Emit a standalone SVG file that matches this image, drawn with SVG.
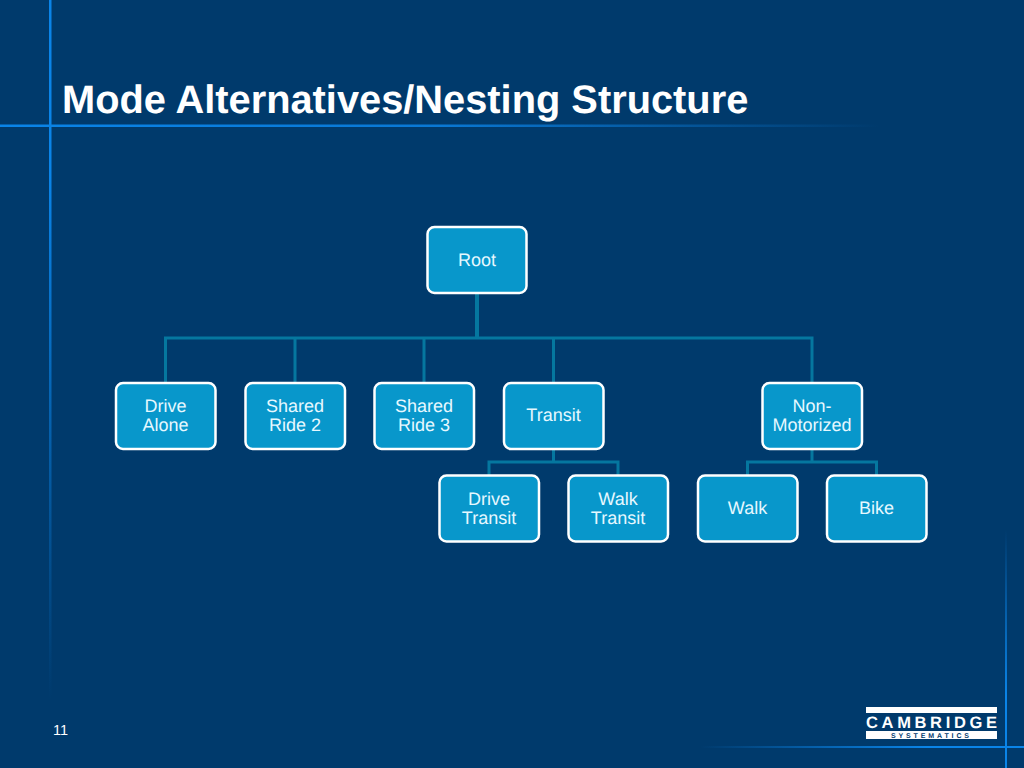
<svg xmlns="http://www.w3.org/2000/svg" width="1024" height="768" viewBox="0 0 1024 768">
<defs>
<linearGradient id="h" x1="0" x2="1" y1="0" y2="0"><stop offset="0" stop-color="#0a84e8"/><stop offset="0.5" stop-color="#0a78d4"/><stop offset="1" stop-color="#0a78d4" stop-opacity="0"/></linearGradient>
<linearGradient id="v" x1="0" x2="0" y1="0" y2="1"><stop offset="0" stop-color="#0a84e8"/><stop offset="0.25" stop-color="#0a84e8"/><stop offset="1" stop-color="#0a84e8" stop-opacity="0"/></linearGradient>
<linearGradient id="h2" x1="0" x2="1" y1="0" y2="0"><stop offset="0" stop-color="#0a84e8" stop-opacity="0"/><stop offset="0.7" stop-color="#0a84e8"/><stop offset="1" stop-color="#0a84e8"/></linearGradient>
<linearGradient id="v2" x1="0" x2="0" y1="0" y2="1"><stop offset="0" stop-color="#0a84e8" stop-opacity="0"/><stop offset="0.7" stop-color="#0a84e8"/><stop offset="1" stop-color="#0a84e8"/></linearGradient>
</defs>
<style>
text{text-rendering:geometricPrecision}
.n{fill:#0897cb;stroke:#fff;stroke-width:2.500}
.t{font-family:"Liberation Sans",Arial,sans-serif;font-size:18px;fill:#e6f8ff;text-anchor:middle}
.c{fill:none;stroke:#05779f;stroke-width:3}
</style>
<rect width="1024" height="768" fill="#003a6c"/>
<g id="frame">
<rect x="49" y="0" width="2.500" height="700" fill="url(#v)"/>
<rect x="0" y="124.500" width="880" height="2.500" fill="url(#h)"/>
<rect x="1005" y="530" width="2" height="238" fill="url(#v2)"/>
<rect x="700" y="746" width="324" height="2" fill="url(#h2)"/>
</g>
<text x="62" y="113" font-family="Liberation Sans,Arial,sans-serif" font-size="39.800" font-weight="bold" fill="#fff">Mode Alternatives/Nesting Structure</text>
<g id="connectors">
<path class="c" style="stroke-width:4" d="M477 293V338"/>
<path class="c" d="M165.500 383V338H812V383M295 338V383M424 338V383M553.500 338V383"/>
<path class="c" d="M553.500 449V462M489 475V462H618V475M812 449V462M747.500 475V462H876.500V475"/>
</g>
<g id="root"><rect class="n" x="427.500" y="227" width="99" height="66" rx="7"/><text class="t" x="477" y="265.500">Root</text></g>
<g id="drive-alone"><rect class="n" x="116" y="383" width="99.500" height="66" rx="7"/><text class="t" x="165.500" y="411.500">Drive</text><text class="t" x="165.500" y="430.500">Alone</text></g>
<g id="shared-ride-2"><rect class="n" x="245.500" y="383" width="99.500" height="66" rx="7"/><text class="t" x="295" y="411.500">Shared</text><text class="t" x="295" y="430.500">Ride 2</text></g>
<g id="shared-ride-3"><rect class="n" x="374.500" y="383" width="99.500" height="66" rx="7"/><text class="t" x="424" y="411.500">Shared</text><text class="t" x="424" y="430.500">Ride 3</text></g>
<g id="transit"><rect class="n" x="504" y="383" width="99.500" height="66" rx="7"/><text class="t" x="553.500" y="421">Transit</text></g>
<g id="non-motorized"><rect class="n" x="762.500" y="383" width="99.500" height="66" rx="7"/><text class="t" x="812" y="411.500">Non-</text><text class="t" x="812" y="430.500">Motorized</text></g>
<g id="drive-transit"><rect class="n" x="439.500" y="475.500" width="99.500" height="66" rx="7"/><text class="t" x="489" y="504.500">Drive</text><text class="t" x="489" y="523.500">Transit</text></g>
<g id="walk-transit"><rect class="n" x="568.500" y="475.500" width="99.500" height="66" rx="7"/><text class="t" x="618" y="504.500">Walk</text><text class="t" x="618" y="523.500">Transit</text></g>
<g id="walk"><rect class="n" x="698" y="475.500" width="99.500" height="66" rx="7"/><text class="t" x="747.500" y="514">Walk</text></g>
<g id="bike"><rect class="n" x="827" y="475.500" width="99.500" height="66" rx="7"/><text class="t" x="876.500" y="514">Bike</text></g>
<text x="53" y="734.500" font-family="Liberation Sans,Arial,sans-serif" font-size="14.500" fill="#fff">11</text>
<g id="logo">
<rect x="866" y="707" width="131" height="6" fill="#fff"/>
<rect x="866" y="731" width="131" height="8" fill="#fff"/>
<text x="866" y="728" font-family="Liberation Sans,Arial,sans-serif" font-size="16.500" font-weight="bold" fill="#fff" textLength="131" lengthAdjust="spacing">CAMBRIDGE</text>
<text x="891" y="737.800" font-family="Liberation Sans,Arial,sans-serif" font-size="7" font-weight="bold" fill="#003a6c" textLength="78" lengthAdjust="spacing">SYSTEMATICS</text>
</g>
</svg>
